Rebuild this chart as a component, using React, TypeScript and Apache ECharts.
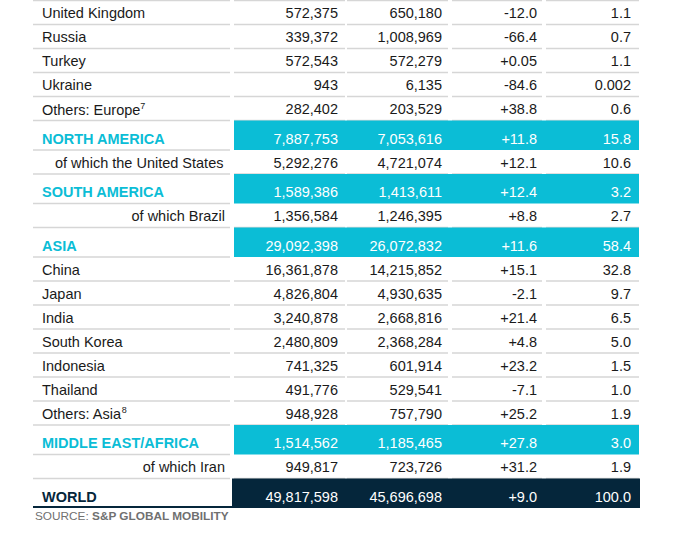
import React, { useEffect, useRef } from "react";
import * as echarts from "echarts";

// ---- data ----
const labels = [
  "United Kingdom", "Russia", "Turkey", "Ukraine", "Others: Europe",
  "NORTH AMERICA", "of which the United States",
  "SOUTH AMERICA", "of which Brazil",
  "ASIA", "China", "Japan", "India", "South Korea", "Indonesia", "Thailand", "Others: Asia",
  "MIDDLE EAST/AFRICA", "of which Iran",
  "WORLD",
];
const footnotes = ["", "", "", "", "7", "", "", "", "", "", "", "", "", "", "", "", "8", "", "", ""];
// c = country, r = region, s = sub (left), sr = sub (right aligned), w = world
const kinds = ["c", "c", "c", "c", "c", "r", "s", "r", "sr", "r", "c", "c", "c", "c", "c", "c", "c", "r", "sr", "w"];
const sales2023 = [572375, 339372, 572543, 943, 282402, 7887753, 5292276, 1589386, 1356584, 29092398, 16361878, 4826804, 3240878, 2480809, 741325, 491776, 948928, 1514562, 949817, 49817598];
const sales2022 = [650180, 1008969, 572279, 6135, 203529, 7053616, 4721074, 1413611, 1246395, 26072832, 14215852, 4930635, 2668816, 2368284, 601914, 529541, 757790, 1185465, 723726, 45696698];
const changePct = [-12.0, -66.4, 0.05, -84.6, 38.8, 11.8, 12.1, 12.4, 8.8, 11.6, 15.1, -2.1, 21.4, 4.8, 23.2, -7.1, 25.2, 27.8, 31.2, 9.0];
const sharePct = [1.1, 0.7, 1.1, 0.002, 0.6, 15.8, 10.6, 3.2, 2.7, 58.4, 32.8, 9.7, 6.5, 5.0, 1.5, 1.0, 1.9, 3.0, 1.9, 100.0];
const sourceLabel = "SOURCE: ";
const sourceName = "S&P GLOBAL MOBILITY";

// ---- style ----
const CYAN = "#0bbdd6";
const NAVY = "#05263b";
const TEXT = "#1a1a1a";
const LINE = "#d6d6d6";
const FONT = '"Liberation Sans", Arial, sans-serif';
const FS = 14.5;

const fmtNum = (v: number) => v.toLocaleString("en-US");
const fmtDec = (v: number) => (v !== 0 && Math.abs(v) < 0.1 ? String(Math.abs(v)) : Math.abs(v).toFixed(1));
const fmtChange = (v: number) => (v > 0 ? "+" : v < 0 ? "-" : "") + fmtDec(v);
const fmtShare = (v: number) => fmtDec(v);

const rowHeight = (k: string) => (k === "r" || k === "w" ? 29.5 : 24);

export default function App() {
  const ref = useRef<HTMLDivElement>(null);
  useEffect(() => {
    if (!ref.current) return;
    const chart = echarts.init(ref.current, null, { renderer: "svg" });

    let y = 0.5;
    const data = labels.map((_, i) => {
      const top = y;
      y += rowHeight(kinds[i]);
      return [i, top, y];
    });

    const segs = [
      [33, 230],
      [234, 345],
      [347, 448],
      [452, 542],
      [546, 639],
    ];
    const valueRight = [338, 442, 537, 631];

    const renderItem = (params: any, api: any) => {
      const i = api.value(0);
      const top = api.value(1);
      const bottom = api.value(2);
      const k = kinds[i];
      const P = (x: number, yy: number) => api.coord([x, yy]);
      const children: any[] = [];
      const lineY = P(0, bottom)[1];

      if (i === 0) {
        const ty = P(0, top)[1];
        segs.forEach(([a, b]) => {
          children.push({
            type: "line",
            shape: { x1: P(a, 0)[0], y1: ty, x2: P(b, 0)[0], y2: ty },
            style: { stroke: LINE, lineWidth: 1.5 },
          });
        });
      }

      if (k !== "w") {
        segs.forEach(([a, b], si) => {
          if (k === "r" && si > 0) return;
          children.push({
            type: "line",
            shape: { x1: P(a, 0)[0], y1: lineY, x2: P(b, 0)[0], y2: lineY },
            style: { stroke: LINE, lineWidth: 1.5 },
          });
        });
      }

      if (k === "r") {
        const p1 = P(234, top);
        const p2 = P(639, bottom);
        children.push({
          type: "rect",
          shape: { x: p1[0], y: p1[1], width: p2[0] - p1[0], height: p2[1] - p1[1] },
          style: { fill: CYAN },
        });
      }
      if (k === "w") {
        const p1 = P(232, top);
        const p2 = P(640, bottom);
        children.push({
          type: "rect",
          shape: { x: p1[0], y: p1[1], width: p2[0] - p1[0], height: p2[1] - p1[1] },
          style: { fill: NAVY },
        });
        children.push({
          type: "line",
          shape: { x1: P(33, 0)[0], y1: lineY - 1, x2: P(232, 0)[0], y2: lineY - 1 },
          style: { stroke: NAVY, lineWidth: 2 },
        });
      }

      const ty = P(0, bottom - 11.5)[1];
      const bold = k === "r" || k === "w";
      const labelColor = k === "r" ? CYAN : k === "w" ? NAVY : TEXT;
      let lx = 42;
      let align = "left";
      if (k === "s") lx = 55;
      if (k === "sr") {
        lx = 225;
        align = "right";
      }
      const fn = footnotes[i];
      children.push({
        type: "text",
        x: P(lx, 0)[0],
        y: ty,
        style: {
          text: fn ? `{m|${labels[i]}}{sup|${fn}}` : labels[i],
          fill: labelColor,
          fontFamily: FONT,
          fontSize: FS,
          fontWeight: bold ? "bold" : "normal",
          align,
          verticalAlign: "middle",
          rich: fn
            ? {
                m: { fontFamily: FONT, fontSize: FS, fill: labelColor, lineHeight: 16, verticalAlign: "bottom" },
                sup: { fontFamily: FONT, fontSize: 9, fill: labelColor, lineHeight: 9, verticalAlign: "top" },
              }
            : undefined,
        },
      });

      const vals = [fmtNum(sales2023[i]), fmtNum(sales2022[i]), fmtChange(changePct[i]), fmtShare(sharePct[i])];
      const vColor = k === "r" || k === "w" ? "#ffffff" : TEXT;
      vals.forEach((v, vi) => {
        children.push({
          type: "text",
          x: P(valueRight[vi], 0)[0],
          y: ty,
          style: {
            text: v,
            fill: vColor,
            fontFamily: FONT,
            fontSize: FS,
            align: "right",
            verticalAlign: "middle",
          },
        });
      });

      return { type: "group", children };
    };

    chart.setOption({
      animation: false,
      grid: { left: 0, right: 0, top: 0, bottom: 0 },
      xAxis: { type: "value", min: 0, max: 691, show: false },
      yAxis: { type: "value", min: 0, max: 533, inverse: true, show: false },
      series: [
        {
          type: "custom",
          renderItem,
          clip: false,
          encode: { x: 0, y: 1 },
          data,
        },
      ],
      graphic: [
        {
          type: "text",
          left: 35,
          top: 510,
          style: {
            text: `{a|${sourceLabel}}{b|${sourceName}}`,
            rich: {
              a: { fontFamily: FONT, fontSize: 11.8, fill: "#707070", fontWeight: "normal" },
              b: { fontFamily: FONT, fontSize: 11.8, fill: "#707070", fontWeight: "bold" },
            },
          },
        },
      ],
    });
    return () => chart.dispose();
  }, []);

  return (
    <div
      ref={ref}
      style={{ position: "fixed", left: 0, top: 0, width: 691, height: 533, background: "#ffffff" }}
    />
  );
}
